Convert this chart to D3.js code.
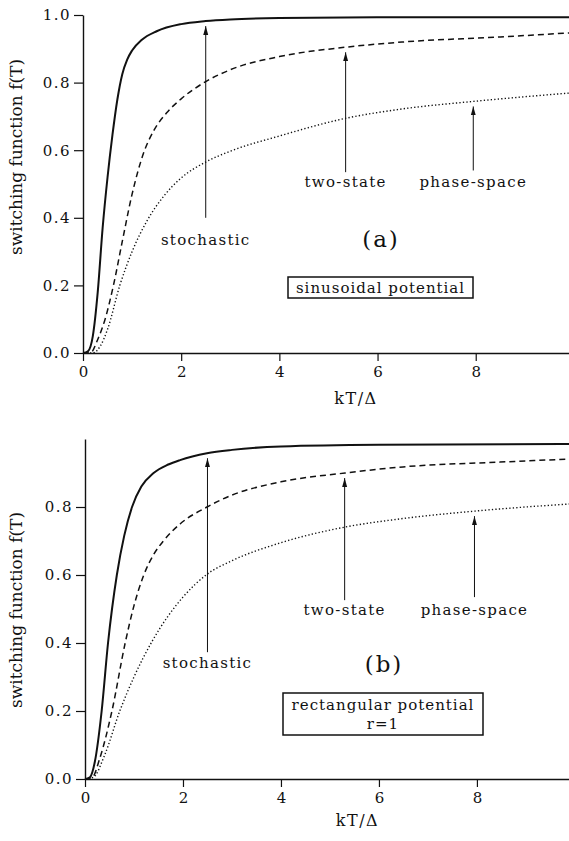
<!DOCTYPE html>
<html>
<head>
<meta charset="utf-8">
<script src="https://cdn.jsdelivr.net/npm/d3@7"></script>
<style>
  html, body { margin: 0; padding: 0; background: #fff; }
  svg { display: block; }
  text { font-family: "DejaVu Serif", serif; fill: #111; }
</style>
</head>
<body>
<svg id="chart" width="569" height="841"></svg>
<script>
// ---------------- data ----------------
const xTickValues = [0, 2, 4, 6, 8];
const yTicksA = [0, 0.2, 0.4, 0.6, 0.8, 1.0];
const yTicksB = [0, 0.2, 0.4, 0.6, 0.8];

// panel (a): sinusoidal potential
const stochA_T = [0, 0.1, 0.2, 0.3, 0.4, 0.5, 0.6, 0.7, 0.8, 0.9, 1.0, 1.2, 1.5, 2.0, 2.5, 3.0, 4.0, 6.0, 9.9];
const stochA_f = [0, 0.005, 0.05, 0.18, 0.37, 0.52, 0.645, 0.75, 0.825, 0.868, 0.895, 0.927, 0.952, 0.973, 0.982, 0.987, 0.991, 0.993, 0.993];
const twoA_T = [0, 0.15, 0.3, 0.45, 0.62, 0.8, 1.0, 1.23, 1.45, 1.7, 2.0, 2.5, 3.0, 4.0, 5.37, 6.5, 8.5, 9.9];
const twoA_f = [0, 0, 0.04, 0.1, 0.2, 0.33, 0.47, 0.59, 0.66, 0.71, 0.752, 0.803, 0.838, 0.877, 0.905, 0.92, 0.935, 0.947];
const phaseA_T = [0, 0.2, 0.35, 0.5, 0.75, 1.0, 1.3, 1.65, 2.0, 2.5, 3.0, 4.0, 5.37, 6.5, 8.0, 9.9];
const phaseA_f = [0, 0, 0.02, 0.07, 0.2, 0.3, 0.39, 0.465, 0.518, 0.565, 0.597, 0.642, 0.695, 0.722, 0.745, 0.769];

// panel (b): rectangular potential, r=1
const stochB_T = [0, 0.1, 0.2, 0.34, 0.47, 0.65, 0.8, 0.96, 1.15, 1.4, 1.7, 1.94, 2.49, 3.0, 4.0, 6.0, 9.9];
const stochB_f = [0, 0.005, 0.05, 0.2, 0.4, 0.6, 0.715, 0.8, 0.86, 0.9, 0.925, 0.938, 0.958, 0.968, 0.978, 0.983, 0.985];
const twoB_T = [0, 0.15, 0.3, 0.55, 0.82, 1.0, 1.2, 1.4, 1.6, 1.94, 2.49, 3.0, 4.0, 5.31, 6.49, 8.47, 9.9];
const twoB_f = [0, 0.005, 0.06, 0.2, 0.4, 0.51, 0.6, 0.66, 0.7, 0.75, 0.8, 0.835, 0.874, 0.9, 0.918, 0.932, 0.941];
const phaseB_T = [0, 0.17, 0.4, 0.71, 1.0, 1.37, 1.7, 2.0, 2.49, 3.0, 4.0, 5.31, 6.43, 7.96, 9.9];
const phaseB_f = [0, 0.005, 0.07, 0.2, 0.3, 0.405, 0.48, 0.535, 0.602, 0.642, 0.695, 0.741, 0.765, 0.788, 0.809];

const seriesNames = ["stochastic", "two-state", "phase-space"];
const annotT_A = [2.5, 5.35, 7.95];
const annotT_B = [2.5, 5.3, 7.95];

// ---------------- layout ----------------
const svg = d3.select("#chart");
const zip = (xs, ys) => xs.map((x, i) => ({ x, y: ys[i] }));
const styles = [
  { width: 2.0, dash: null },
  { width: 1.5, dash: "6,4" },
  { width: 1.4, dash: "1.3,2.2" }
];

svg.append("defs").append("marker")
  .attr("id", "ah").attr("viewBox", "0 0 10 10")
  .attr("refX", 10).attr("refY", 5)
  .attr("markerWidth", 9).attr("markerHeight", 9)
  .attr("markerUnits", "userSpaceOnUse")
  .attr("orient", "auto")
  .append("path").attr("d", "M0,2.2 L10,5 L0,7.8 Z").attr("fill", "#111");

function interp(xs, ys, t) {
  for (let i = 1; i < xs.length; i++) {
    if (t <= xs[i]) { const u = (t - xs[i-1]) / (xs[i] - xs[i-1]); return ys[i-1] + u * (ys[i] - ys[i-1]); }
  }
  return ys[ys.length - 1];
}

function panel(cfg) {
  const x = d3.scaleLinear().domain([0, 9.9]).range(cfg.xr);
  const y = d3.scaleLinear().domain([0, 1]).range(cfg.yr);
  const g = svg.append("g");

  // axes
  const xa = g.append("g").attr("transform", `translate(0,${cfg.yr[0]})`)
    .call(d3.axisBottom(x).tickValues(xTickValues).tickFormat(d3.format("d")).tickSize(8).tickSizeOuter(0).tickPadding(5));
  const ya = g.append("g").attr("transform", `translate(${cfg.xr[0]},0)`)
    .call(d3.axisLeft(y).tickValues(cfg.yTicks).tickFormat(d3.format(".1f")).tickSize(9).tickSizeOuter(0).tickPadding(3));
  [xa, ya].forEach(a => {
    a.select(".domain").attr("stroke", "#111").attr("stroke-width", 1.4);
    a.selectAll(".tick line").attr("stroke", "#111").attr("stroke-width", 1.2);
    a.selectAll(".tick text").attr("font-family", "DejaVu Serif").attr("font-size", 15).attr("fill", "#111");
  });
  ya.selectAll(".tick text").attr("letter-spacing", 1.5);

  g.append("text").attr("x", (cfg.xr[0] + cfg.xr[1]) / 2 + 30).attr("y", cfg.xLabelY)
    .attr("text-anchor", "middle").attr("font-size", 16).attr("letter-spacing", 1.5).text("kT/Δ");
  g.append("text").attr("transform", `translate(22,${cfg.yLabelY}) rotate(-90)`)
    .attr("text-anchor", "middle").attr("font-family", "Liberation Serif").attr("font-size", 17)
    .text("switching function f(T)");

  // curves
  const line = d3.line().x(d => x(d.x)).y(d => y(d.y)).curve(d3.curveMonotoneX);
  cfg.series.forEach((s, i) => {
    g.append("path").datum(zip(s[0], s[1])).attr("d", line)
      .attr("fill", "none").attr("stroke", "#111")
      .attr("stroke-width", styles[i].width)
      .attr("stroke-dasharray", styles[i].dash);
  });

  // arrows + labels
  seriesNames.forEach((name, i) => {
    const t = cfg.annotT[i];
    const tipY = y(interp(cfg.series[i][0], cfg.series[i][1], t)) + 5;
    g.append("line").attr("x1", x(t)).attr("x2", x(t))
      .attr("y1", y(cfg.arrowBase[i])).attr("y2", tipY)
      .attr("stroke", "#111").attr("stroke-width", 1).attr("marker-end", "url(#ah)");
    g.append("text").attr("x", x(t)).attr("y", y(cfg.textBase[i]))
      .attr("text-anchor", "middle").attr("font-size", 15).attr("letter-spacing", 1.3).text(name);
  });

  g.append("text").attr("x", cfg.tagX).attr("y", cfg.tagY).attr("text-anchor", "middle")
    .attr("font-size", 23).attr("letter-spacing", 2).text(cfg.tag);

  g.append("rect").attr("x", cfg.box[0]).attr("y", cfg.box[1]).attr("width", cfg.box[2]).attr("height", cfg.box[3])
    .attr("fill", "none").attr("stroke", "#111").attr("stroke-width", 1.5);
  cfg.boxLines.forEach((l, k) => {
    g.append("text").attr("x", cfg.box[0] + cfg.box[2] / 2).attr("y", cfg.boxTextY[k])
      .attr("text-anchor", "middle").attr("font-size", 15).attr("letter-spacing", 1).text(l);
  });
}

panel({
  xr: [83, 569], yr: [353, 15], yTicks: yTicksA,
  xLabelY: 404, yLabelY: 157,
  series: [[stochA_T, stochA_f], [twoA_T, twoA_f], [phaseA_T, phaseA_f]],
  annotT: annotT_A, arrowBase: [0.40, 0.535, 0.54], textBase: [0.32, 0.49, 0.49],
  tag: "(a)", tagX: 381, tagY: 247,
  box: [288, 277, 185, 21], boxLines: ["sinusoidal potential"], boxTextY: [293]
});

panel({
  xr: [85, 570], yr: [779, 439], yTicks: yTicksB,
  xLabelY: 826, yLabelY: 610,
  series: [[stochB_T, stochB_f], [twoB_T, twoB_f], [phaseB_T, phaseB_f]],
  annotT: annotT_B, arrowBase: [0.373, 0.526, 0.535], textBase: [0.326, 0.482, 0.482],
  tag: "(b)", tagX: 384, tagY: 672,
  box: [283, 693, 200, 42], boxLines: ["rectangular potential", "r=1"], boxTextY: [710, 729]
});
</script>
</body>
</html>
